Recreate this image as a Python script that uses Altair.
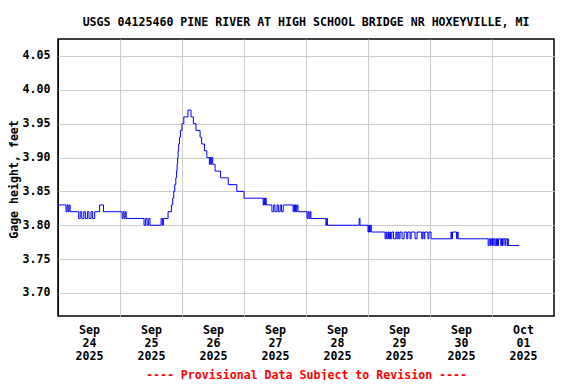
import altair as alt
import pandas as pd

# Change points: hours after 2025-09-24 00:00 and gage height (ft), drawn as steps
hours = [
    0.0, 3.1, 3.5, 3.9, 4.3, 4.7, 8.0, 8.6, 9.2, 10.0, 10.6, 11.4, 12.0, 12.8, 13.4,
    14.2, 14.7, 16.1, 17.6, 24.8, 25.2, 25.6, 26.0, 26.4, 33.3,
    33.9, 34.5, 35.1, 35.6, 39.9, 40.4, 40.8, 42.6, 43.9, 44.4, 44.8, 45.2, 45.6,
    45.9, 46.1, 46.3, 46.5, 46.7, 47.0, 47.4, 48.0, 48.7, 50.3, 51.5, 52.4, 53.4,
    55.0, 55.6, 56.7, 57.6, 58.6, 58.9, 59.2, 59.5, 59.9, 60.8, 62.9, 65.9, 69.2,
    72.0, 79.4, 79.7, 80.0, 80.3, 80.6, 82.8, 83.5, 84.0, 84.8, 85.3, 86.0, 86.5,
    87.2, 87.6, 91.0, 91.3, 91.6, 91.9, 92.2, 92.5, 92.9, 96.4, 96.8, 97.2,
    97.6, 97.9, 103.7, 104.0, 104.3, 116.6, 116.9, 120.0, 120.3, 120.6, 120.9,
    121.3, 126.6, 127.0, 127.3, 127.7, 128.0, 128.4, 128.7, 129.2, 129.9, 130.8,
    131.2, 131.6, 132.0, 132.4, 133.2, 134.0, 135.0, 135.4, 136.3, 136.7, 138.2,
    139.0, 140.8, 141.2, 141.7, 142.0, 143.2, 143.6, 144.4, 152.1, 152.4, 152.7,
    154.3, 154.6, 154.9, 166.5, 166.9, 167.4, 167.7, 168.2, 168.5, 169.1, 169.5,
    169.7, 170.0, 170.2, 170.5, 171.4, 171.7, 172.1, 172.3, 173.0, 173.3, 173.9,
    174.1, 174.3, 178.5,
]
gage = [
    3.83, 3.82, 3.83, 3.82, 3.83, 3.82, 3.81, 3.82, 3.81, 3.82, 3.81, 3.82, 3.81, 3.82, 3.81,
    3.82, 3.82, 3.83, 3.82, 3.81, 3.82, 3.81, 3.82, 3.81, 3.80,
    3.81, 3.80, 3.81, 3.80, 3.81, 3.80, 3.81, 3.82, 3.83, 3.84, 3.85, 3.86, 3.87,
    3.88, 3.89, 3.90, 3.91, 3.92, 3.93, 3.94, 3.95, 3.96, 3.97, 3.96, 3.95, 3.94,
    3.93, 3.92, 3.91, 3.90, 3.89, 3.90, 3.89, 3.90, 3.89, 3.88, 3.87, 3.86, 3.85,
    3.84, 3.83, 3.84, 3.83, 3.84, 3.83, 3.82, 3.83, 3.82, 3.83, 3.82, 3.83, 3.82,
    3.83, 3.83, 3.82, 3.83, 3.82, 3.83, 3.82, 3.83, 3.82, 3.81, 3.82, 3.81,
    3.82, 3.81, 3.80, 3.81, 3.80, 3.81, 3.80, 3.79, 3.80, 3.79, 3.80,
    3.79, 3.78, 3.79, 3.78, 3.79, 3.78, 3.79, 3.78, 3.79, 3.78, 3.79,
    3.78, 3.79, 3.78, 3.79, 3.78, 3.79, 3.78, 3.79, 3.78, 3.79, 3.78,
    3.79, 3.78, 3.79, 3.78, 3.79, 3.78, 3.79, 3.78, 3.79, 3.78, 3.79,
    3.78, 3.79, 3.78, 3.77, 3.78, 3.77, 3.78, 3.77, 3.78, 3.77, 3.78,
    3.77, 3.78, 3.77, 3.78, 3.77, 3.78, 3.77, 3.78, 3.77, 3.78, 3.77,
    3.78, 3.77, 3.77,
]

y_ticks = [3.70, 3.75, 3.80, 3.85, 3.90, 3.95, 4.00, 4.05]
day_dates = [24, 25, 26, 27, 28, 29, 30]

start = pd.Timestamp("2025-09-24 00:00")
df = pd.DataFrame({
    "time": [(start + pd.Timedelta(hours=h)).strftime("%Y-%m-%dT%H:%M:%S") for h in hours],
    "gage": gage,
})

FONT = "DejaVu Sans Mono"
FS = 11.6

x_values = [alt.DateTime(year=2025, month=9, date=d) for d in day_dates] + [
    alt.DateTime(year=2025, month=10, date=1)
]

chart = (
    alt.Chart(df)
    .mark_line(color="#0000ff", strokeWidth=1, interpolate="step-after")
    .encode(
        x=alt.X(
            "time:T",
            scale=alt.Scale(
                domain=[
                    alt.DateTime(year=2025, month=9, date=24),
                    alt.DateTime(year=2025, month=10, date=2),
                ]
            ),
            axis=alt.Axis(
                values=x_values,
                labelExpr="[timeFormat(datum.value, '%b'), timeFormat(datum.value, '%d'), timeFormat(datum.value, '%Y')]",
                labelOffset=31,
                labelBaseline="top",
                labelAlign="center",
                labelPadding=8,
                labelLineHeight=13,
                labelFont=FONT,
                labelFontSize=FS,
                labelFontWeight="bold",
                labelColor="black",
                ticks=False,
                tickSize=0,
                domain=False,
                grid=True,
                gridColor=alt.condition(
                    "datum.value <= time(datetime(2025, 8, 24, 1))",
                    alt.value("black"),
                    alt.value("#cccccc"),
                ),
                gridWidth=1,
                title="---- Provisional Data Subject to Revision ----",
                titleColor="#ff0000",
                titleFont=FONT,
                titleFontSize=FS,
                titleFontWeight="bold",
                titleX=248,
                titleY=59,
                titleBaseline="middle",
                titleAlign="center",
            ),
        ),
        y=alt.Y(
            "gage:Q",
            scale=alt.Scale(domain=[3.666, 4.075], nice=False, zero=False),
            axis=alt.Axis(
                values=y_ticks,
                format=".2f",
                labelFont=FONT,
                labelFontSize=FS,
                labelFontWeight="bold",
                labelColor="black",
                labelPadding=8,
                ticks=False,
                tickSize=0,
                domain=False,
                grid=True,
                gridColor="#cccccc",
                gridWidth=1,
                title="Gage height, feet",
                titleFont=FONT,
                titleFontSize=FS,
                titleFontWeight="bold",
                titleColor="black",
                titleAngle=270,
                titleX=-44,
                titleY=140,
                titleBaseline="middle",
                titleAlign="center",
            ),
        ),
    )
    .properties(
        width=496,
        height=277,
        background="white",
        autosize=alt.AutoSizeParams(type="none"),
        padding={"left": 50, "top": 31, "right": 14, "bottom": 64},
        title=alt.TitleParams(
            text="USGS 04125460 PINE RIVER AT HIGH SCHOOL BRIDGE NR HOXEYVILLE, MI",
            font=FONT,
            fontSize=FS,
            fontWeight="bold",
            color="black",
            anchor="middle",
            baseline="alphabetic",
            offset=1,
        ),
    )
    .configure_view(stroke="black", strokeWidth=1.5)
)

chart.save("out.html", embed_options={"renderer": "svg", "actions": False})
